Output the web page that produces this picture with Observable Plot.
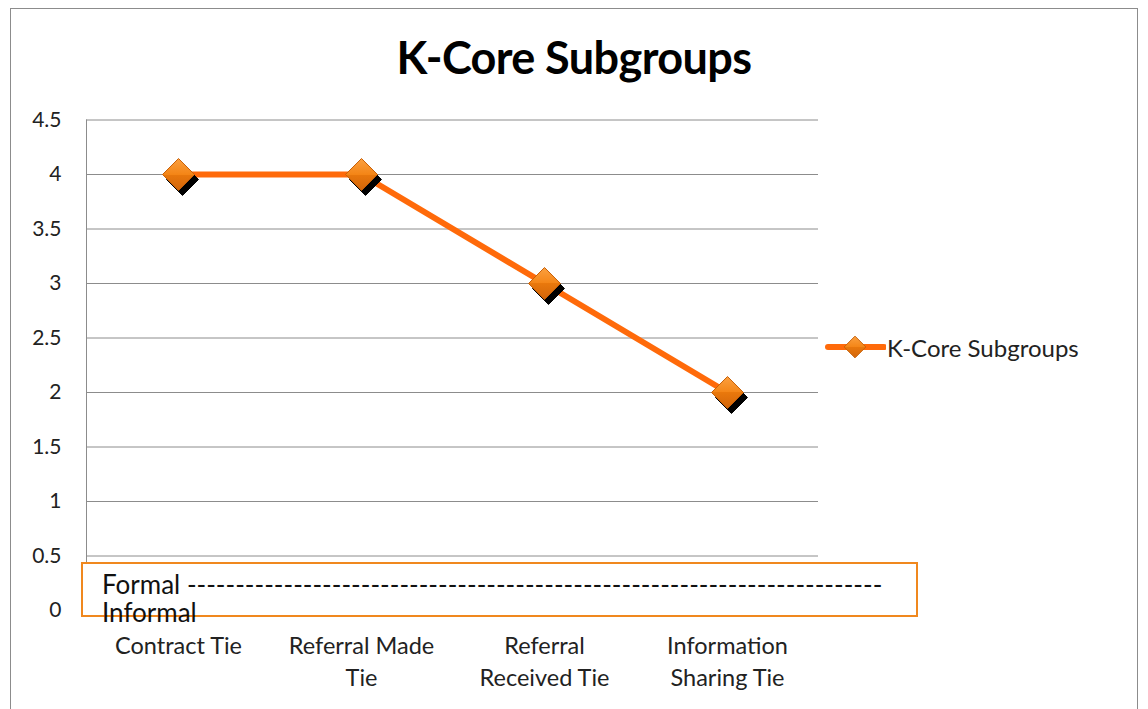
<!DOCTYPE html>
<html>
<head>
<meta charset="utf-8">
<script src="https://cdn.jsdelivr.net/npm/d3@7"></script>
<script src="https://cdn.jsdelivr.net/npm/@observablehq/plot@0.6"></script>
<style>
  html, body { margin: 0; padding: 0; background: #fff; }
  #wrap { position: relative; width: 1148px; height: 709px; overflow: hidden; font-family: Lato, "Open Sans", sans-serif; color: #222; }
  #frame { position: absolute; left: 10px; top: 8px; width: 1128px; height: 720px; border: 1px solid #8c8c8c; box-sizing: border-box; }
  #title { position: absolute; left: 0; width: 1148px; top: 30px; text-align: center; font-size: 45px; font-weight: 700; color: #000; letter-spacing: -0.6px; }
  #chart { position: absolute; left: 0; top: 0; }
  #legend { position: absolute; left: 824px; top: 331px; display: flex; align-items: center; font-size: 24px; color: #222; }
  #box { position: absolute; left: 81px; top: 562px; width: 837px; height: 55px; border: 2px solid #f0881e; box-sizing: border-box; background: #fff; font-size: 26px; color: #111; }
  #box .l1 { position: absolute; left: 19px; top: 4px; white-space: nowrap; line-height: 32px; }
  #box .l2 { position: absolute; left: 19px; top: 32px; white-space: nowrap; line-height: 32px; }
</style>
</head>
<body>
<div id="wrap">
  <div id="chart"></div>
  <div id="frame"></div>
  <div id="title"></div>
  <div id="legend"></div>
  <div id="box"><span class="l1"></span><span class="l2"></span></div>
</div>
<script>
const chartTitle = "K-Core Subgroups";
const seriesName = "K-Core Subgroups";
const categories = ["Contract Tie", "Referral Made\nTie", "Referral\nReceived Tie", "Information\nSharing Tie"];
const values = [4, 4, 3, 2];
const yTicks = [0, 0.5, 1, 1.5, 2, 2.5, 3, 3.5, 4, 4.5];
const boxLine1 = "Formal " + "-".repeat(72);
const boxLine2 = "Informal";

const data = categories.map((c, i) => ({category: c, value: values[i]}));
const lineColor = "#ff6a0a";

const plot = Plot.plot({
  width: 1148,
  height: 709,
  marginLeft: 86,
  marginRight: 330,
  marginTop: 119.5,
  marginBottom: 99,
  style: {fontFamily: "Lato, 'Open Sans', sans-serif", fontSize: "20px", color: "#222", background: "transparent"},
  x: {type: "point", domain: categories, padding: 0.5, label: null},
  y: {domain: [0, 4.5], label: null},
  marks: [
    Plot.gridY(yTicks, {stroke: "#8c8c8c", strokeOpacity: 1, strokeWidth: 1}),
    Plot.frame({anchor: "left", stroke: "#8c8c8c"}),
    Plot.axisY(yTicks, {tickSize: 0, tickPadding: 25, tickFormat: d => String(d), fontSize: 21, fill: "#222"}),
    Plot.axisX({tickSize: 0, tickPadding: 21, fontSize: 23.5, lineHeight: 1.36, fill: "#222"}),
    Plot.line(data, {x: "category", y: "value", stroke: lineColor, strokeWidth: 6}),
    Plot.dot(data, {x: "category", y: "value", symbol: "diamond2", r: 14.4, fill: "#000", stroke: "#000", strokeWidth: 1, dx: 4, dy: 5}),
    Plot.dot(data, {x: "category", y: "value", symbol: "diamond2", r: 14.4, fill: "url(#dgrad)", stroke: "#c86008", strokeWidth: 1})
  ]
});

// gradient for diamonds
const defs = d3.select(plot).insert("defs", ":first-child");
const g = defs.append("linearGradient").attr("id", "dgrad").attr("x1", 0).attr("y1", 0).attr("x2", 0).attr("y2", 1);
g.append("stop").attr("offset", "0%").attr("stop-color", "#fba040");
g.append("stop").attr("offset", "50%").attr("stop-color", "#f48516");
g.append("stop").attr("offset", "50%").attr("stop-color", "#e9780c");
g.append("stop").attr("offset", "100%").attr("stop-color", "#d2650a");

document.getElementById("chart").appendChild(plot);
document.getElementById("title").textContent = chartTitle;

// legend
const leg = d3.select("#legend");
const ls = leg.append("svg").attr("width", 62).attr("height", 32);
const lg = ls.append("defs").append("linearGradient").attr("id", "lgrad").attr("x1", 0).attr("y1", 0).attr("x2", 0).attr("y2", 1);
lg.append("stop").attr("offset", "0%").attr("stop-color", "#fba040");
lg.append("stop").attr("offset", "50%").attr("stop-color", "#f48516");
lg.append("stop").attr("offset", "50%").attr("stop-color", "#e9780c");
lg.append("stop").attr("offset", "100%").attr("stop-color", "#d2650a");
ls.append("line").attr("x1", 4).attr("x2", 60).attr("y1", 16).attr("y2", 16).attr("stroke", lineColor).attr("stroke-width", 6).attr("stroke-linecap", "round");
ls.append("path").attr("d", d3.symbol(d3.symbolDiamond2, 300)()).attr("transform", "translate(31,16)").attr("fill", "url(#lgrad)").attr("stroke", "#c86008");
leg.append("span").text(seriesName).style("margin-left", "1px");

document.querySelector("#box .l1").textContent = boxLine1;
document.querySelector("#box .l2").textContent = boxLine2;
</script>
</body>
</html>
